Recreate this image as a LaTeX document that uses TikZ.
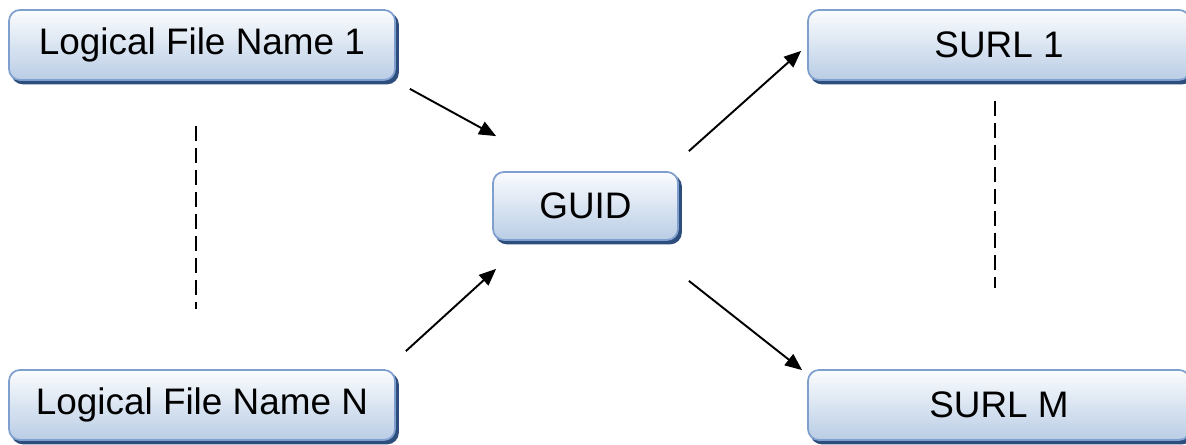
\documentclass[tikz,border=0pt]{standalone}
\usepackage{fontspec}
\setmainfont{Liberation Sans}
\usepackage{tikz}
\usetikzlibrary{arrows.meta, shadows, calc}

\definecolor{boxedge}{HTML}{7F9FCF}
\definecolor{boxtop}{HTML}{FBFCFE}
\definecolor{boxbottom}{HTML}{B9CDE5}
\definecolor{boxshadow}{HTML}{2D4D7C}

\begin{document}
\begin{tikzpicture}[
        entry/.style={rectangle, draw=boxedge, line width=1pt, top color=boxtop, bottom color=boxbottom, rounded corners=2.2mm, minimum height=1.4cm, align=center, font=\fontsize{21}{25}\selectfont, copy shadow={fill=boxshadow, draw=boxshadow, shadow xshift=0.06cm, shadow yshift=-0.07cm}},
        arrow/.style={-{Triangle[length=0.34cm, width=0.28cm]}, line width=1.1pt, black},
        gap/.style={dashed, dash pattern=on 0.3cm off 0.14cm, line width=1.1pt}
    ]
        \useasboundingbox (0, 0) rectangle (23.72, 8.9);

        % Logical file names (left)
        \node[entry, minimum width=7.72cm] (lfn1) at (4.04, 8.0) {Logical File Name 1};
        \node[entry, minimum width=7.72cm] (lfnN) at (4.04, 0.8) {Logical File Name N};

        % GUID (centre)
        \node[entry, minimum width=3.7cm, minimum height=1.36cm] (guid) at (11.71, 4.78) {GUID};

        % Storage URLs (right)
        \node[entry, minimum width=7.64cm] (surl1) at (19.98, 8.0) {SURL 1};
        \node[entry, minimum width=7.64cm] (surlM) at (19.98, 0.8) {SURL M};

        % Mappings
        \draw[arrow] ([shift={(0.28,-0.16)}]lfn1.south east) -- ([shift={(0.08,0.7)}]guid.north west);
        \draw[arrow] ([shift={(0.2,0.36)}]lfnN.north east) -- ([shift={(0.08,-0.56)}]guid.south west);
        \draw[arrow] ([shift={(0.2,0.4)}]guid.north east) -- ([shift={(-0.12,0.6)}]surl1.south west);
        \draw[arrow] ([shift={(0.2,-0.8)}]guid.south east) -- ([shift={(-0.1,-0.02)}]surlM.north west);

        % Omitted entries
        \draw[gap] ([shift={(-0.12,-0.9)}]lfn1.south) -- ([shift={(-0.12,1.2)}]lfnN.north);
        \draw[gap] ([shift={(-0.08,-0.4)}]surl1.south) -- ([shift={(-0.08,1.62)}]surlM.north);

    \end{tikzpicture}
\end{document}
